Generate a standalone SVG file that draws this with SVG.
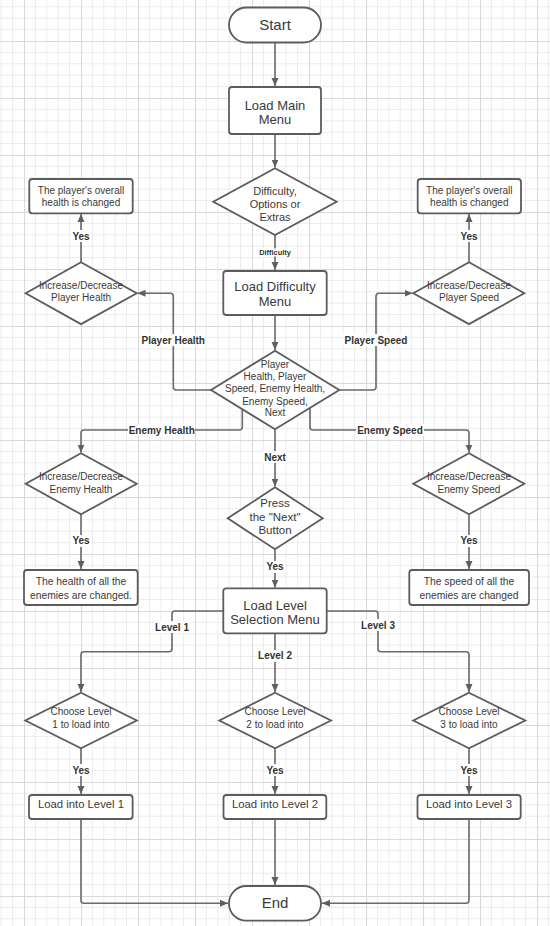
<svg xmlns="http://www.w3.org/2000/svg" width="550" height="926" viewBox="0 0 550 926">
<defs>
<pattern id="grid" patternUnits="userSpaceOnUse" x="24" y="41" width="57" height="57">
<path d="M11.4 0V57M22.8 0V57M34.2 0V57M45.6 0V57M0 11.4H57M0 22.8H57M0 34.2H57M0 45.6H57" stroke="#ececec" stroke-width="1" fill="none"/>
<path d="M0.5 0V57M0 0.5H57" stroke="#d9d9d9" stroke-width="1.2" fill="none"/>
</pattern>
<marker id="arr" markerUnits="userSpaceOnUse" markerWidth="9" markerHeight="8" refX="8" refY="4" orient="auto">
<path d="M0,0.5 L8,4 L0,7.5 z" fill="#5f5f5f"/>
</marker>
</defs>
<style>
.node{fill:#fff;stroke:#5c5c5c;stroke-width:1.8}
.t{font-family:"Liberation Sans",Arial,sans-serif;fill:#3a3a3a;text-anchor:middle}
.lbl{font-family:"Liberation Sans",Arial,sans-serif;fill:#333;font-weight:bold;font-size:10px;text-anchor:middle}
.c{fill:none;stroke:#6a6a6a;stroke-width:1.6;marker-end:url(#arr)}
.bg{fill:#fff}
</style>
<rect width="550" height="926" fill="#fff"/>
<rect width="550" height="926" fill="url(#grid)"/>

<g id="connectors">
<path class="c" d="M275 42.5V86"/>
<path class="c" d="M275 134V167.5"/>
<path class="c" d="M275 235V270"/>
<path class="c" d="M275 315V350"/>
<path class="c" d="M211 390H176.3Q173.3 390 173.3 387V296.3Q173.3 293.3 170.3 293.3H137.5"/>
<path class="c" d="M339.3 390H373Q376 390 376 387V296.3Q376 293.3 379 293.3H412.5"/>
<path class="c" d="M81 262.3V214"/>
<path class="c" d="M469 262.3V214"/>
<path class="c" d="M242.3 409.5V427Q242.3 430 239.3 430H84Q81 430 81 433V452.5"/>
<path class="c" d="M310 408V427Q310 430 313 430H466Q469 430 469 433V452.5"/>
<path class="c" d="M275 429.3V486.5"/>
<path class="c" d="M81 514.3V569"/>
<path class="c" d="M469 514.3V569"/>
<path class="c" d="M275 549.3V587.5"/>
<path class="c" d="M223.3 611H175Q172 611 172 614V648.7Q172 651.7 169 651.7H84Q81 651.7 81 654.7V692"/>
<path class="c" d="M326.7 611H375Q378 611 378 614V648.7Q378 651.7 381 651.7H466Q469 651.7 469 654.7V692"/>
<path class="c" d="M275 633.3V692"/>
<path class="c" d="M81 748.3V794"/>
<path class="c" d="M275 748.3V794"/>
<path class="c" d="M469 748.3V794"/>
<path class="c" d="M81 819V900.3Q81 903.3 84 903.3H228"/>
<path class="c" d="M469 819V900.3Q469 903.3 466 903.3H322"/>
<path class="c" d="M275 819V885"/>
<rect class="bg" x="254" y="248.5" width="42" height="8"/>
<text class="lbl" x="275" y="254.9" style="font-size:7.4px">Difficulty</text>
<rect class="bg" x="141" y="334" width="65" height="12"/>
<text class="lbl" x="173.3" y="343.5">Player Health</text>
<rect class="bg" x="343" y="334" width="66" height="12"/>
<text class="lbl" x="376" y="343.5">Player Speed</text>
<rect class="bg" x="71" y="230" width="20" height="12"/>
<text class="lbl" x="81" y="239.5">Yes</text>
<rect class="bg" x="459" y="230" width="20" height="12"/>
<text class="lbl" x="469" y="239.5">Yes</text>
<rect class="bg" x="128" y="424" width="67" height="12"/>
<text class="lbl" x="161.7" y="433.5">Enemy Health</text>
<rect class="bg" x="356" y="424" width="68" height="12"/>
<text class="lbl" x="390" y="433.5">Enemy Speed</text>
<rect class="bg" x="263" y="451" width="24" height="12"/>
<text class="lbl" x="275" y="460.8">Next</text>
<rect class="bg" x="71" y="535" width="20" height="12"/>
<text class="lbl" x="81" y="544.2">Yes</text>
<rect class="bg" x="459" y="535" width="20" height="12"/>
<text class="lbl" x="469" y="544.2">Yes</text>
<rect class="bg" x="265" y="561" width="20" height="12"/>
<text class="lbl" x="275" y="570.2">Yes</text>
<rect class="bg" x="154" y="621" width="36" height="12"/>
<text class="lbl" x="172" y="630.8">Level 1</text>
<rect class="bg" x="257" y="650" width="36" height="12"/>
<text class="lbl" x="275" y="659.2">Level 2</text>
<rect class="bg" x="360" y="619" width="36" height="12"/>
<text class="lbl" x="378" y="628.5">Level 3</text>
<rect class="bg" x="71" y="764" width="20" height="12"/>
<text class="lbl" x="81" y="773.5">Yes</text>
<rect class="bg" x="265" y="764" width="20" height="12"/>
<text class="lbl" x="275" y="773.5">Yes</text>
<rect class="bg" x="459" y="764" width="20" height="12"/>
<text class="lbl" x="469" y="773.5">Yes</text>
</g>

<g id="start">
<rect class="node" x="229" y="7.5" width="92" height="35" rx="17.5"/>
<text class="t" x="275" y="29.8" font-size="15">Start</text>
</g>
<g id="main-menu">
<rect class="node" x="229" y="87" width="92" height="47" rx="3"/>
<text class="t" x="275" y="109.5" font-size="13">Load Main</text>
<text class="t" x="275" y="123.8" font-size="13">Menu</text>
</g>
<g id="menu-choice">
<polygon class="node" points="275,168.3 336.7,201.7 275,235 213.3,201.7"/>
<text class="t" x="275" y="194.6" font-size="11">Difficulty,</text>
<text class="t" x="275" y="207.9" font-size="11">Options or</text>
<text class="t" x="275" y="221.2" font-size="11">Extras</text>
</g>
<g id="difficulty-menu">
<rect class="node" x="223.3" y="271" width="103.4" height="44" rx="3"/>
<text class="t" x="275" y="291.2" font-size="13">Load Difficulty</text>
<text class="t" x="275" y="306.2" font-size="13">Menu</text>
</g>
<g id="difficulty-choice">
<polygon class="node" points="275,350.7 339.3,390 275,429.3 211,390"/>
<text class="t" x="275" y="367.5" font-size="10">Player</text>
<text class="t" x="275" y="379.5" font-size="10">Health, Player</text>
<text class="t" x="275" y="391.8" font-size="10">Speed, Enemy Health,</text>
<text class="t" x="275" y="404.5" font-size="10">Enemy Speed,</text>
<text class="t" x="275" y="416.2" font-size="10">Next</text>
</g>
<g id="player-health">
<polygon class="node" points="81,262.3 136.7,293.2 81,324.1 25.7,293.2"/>
<text class="t" x="81" y="289.2" font-size="10">Increase/Decrease</text>
<text class="t" x="81" y="300.8" font-size="10">Player Health</text>
</g>
<g id="player-health-result">
<rect class="node" x="29.3" y="179" width="103.4" height="34.3" rx="3"/>
<text class="t" x="81" y="194.2" font-size="10">The player's overall</text>
<text class="t" x="81" y="206.2" font-size="10">health is changed</text>
</g>
<g id="player-speed">
<polygon class="node" points="469,262.3 524.3,293.2 469,324.1 413.3,293.2"/>
<text class="t" x="469" y="289.2" font-size="10">Increase/Decrease</text>
<text class="t" x="469" y="300.8" font-size="10">Player Speed</text>
</g>
<g id="player-speed-result">
<rect class="node" x="417.7" y="179" width="103.3" height="34.3" rx="3"/>
<text class="t" x="469.3" y="194.2" font-size="10">The player's overall</text>
<text class="t" x="469.3" y="206.2" font-size="10">health is changed</text>
</g>
<g id="enemy-health">
<polygon class="node" points="81,453.3 136.7,483.8 81,514.3 25.7,483.8"/>
<text class="t" x="81" y="480.2" font-size="10">Increase/Decrease</text>
<text class="t" x="81" y="492.5" font-size="10">Enemy Health</text>
</g>
<g id="enemy-health-result">
<rect class="node" x="24" y="570" width="113.7" height="35" rx="3"/>
<text class="t" x="81" y="585.3" font-size="10.3">The health of all the</text>
<text class="t" x="81" y="598.6" font-size="10.3">enemies are changed.</text>
</g>
<g id="enemy-speed">
<polygon class="node" points="469,453.3 524.3,483.8 469,514.3 413.3,483.8"/>
<text class="t" x="469" y="480.2" font-size="10">Increase/Decrease</text>
<text class="t" x="469" y="492.5" font-size="10">Enemy Speed</text>
</g>
<g id="enemy-speed-result">
<rect class="node" x="409.3" y="570" width="119.7" height="35" rx="3"/>
<text class="t" x="469" y="585.3" font-size="10.3">The speed of all the</text>
<text class="t" x="469" y="598.6" font-size="10.3">enemies are changed</text>
</g>
<g id="press-next">
<polygon class="node" points="275,487.3 322.7,518.3 275,549.3 227.7,518.3"/>
<text class="t" x="275" y="506.7" font-size="11.5">Press</text>
<text class="t" x="275" y="520.7" font-size="11.5">the "Next"</text>
<text class="t" x="275" y="534" font-size="11.5">Button</text>
</g>
<g id="level-menu">
<rect class="node" x="223.3" y="588.3" width="103.4" height="45" rx="3"/>
<text class="t" x="275" y="609.5" font-size="13">Load Level</text>
<text class="t" x="275" y="623.8" font-size="13">Selection Menu</text>
</g>
<g id="choose-1">
<polygon class="node" points="81,692.7 136.8,720.5 81,748.3 25.3,720.5"/>
<text class="t" x="81" y="715.2" font-size="10">Choose Level</text>
<text class="t" x="81" y="727.5" font-size="10">1 to load into</text>
</g>
<g id="choose-2">
<polygon class="node" points="275,692.7 331,720.5 275,748.3 219.3,720.5"/>
<text class="t" x="275" y="715.2" font-size="10">Choose Level</text>
<text class="t" x="275" y="727.5" font-size="10">2 to load into</text>
</g>
<g id="choose-3">
<polygon class="node" points="469,692.7 525.3,720.5 469,748.3 413.3,720.5"/>
<text class="t" x="469" y="715.2" font-size="10">Choose Level</text>
<text class="t" x="469" y="727.5" font-size="10">3 to load into</text>
</g>
<g id="level-1">
<rect class="node" x="29" y="795" width="103.6" height="24" rx="3"/>
<text class="t" x="81" y="807.5" font-size="11.3">Load into Level 1</text>
</g>
<g id="level-2">
<rect class="node" x="223.5" y="795" width="102.8" height="24" rx="3"/>
<text class="t" x="275" y="807.5" font-size="11.3">Load into Level 2</text>
</g>
<g id="level-3">
<rect class="node" x="417.5" y="795" width="103.2" height="24" rx="3"/>
<text class="t" x="469" y="807.5" font-size="11.3">Load into Level 3</text>
</g>
<g id="end">
<rect class="node" x="229" y="886" width="92" height="34.7" rx="17.3"/>
<text class="t" x="275" y="908" font-size="15">End</text>
</g>
</svg>
